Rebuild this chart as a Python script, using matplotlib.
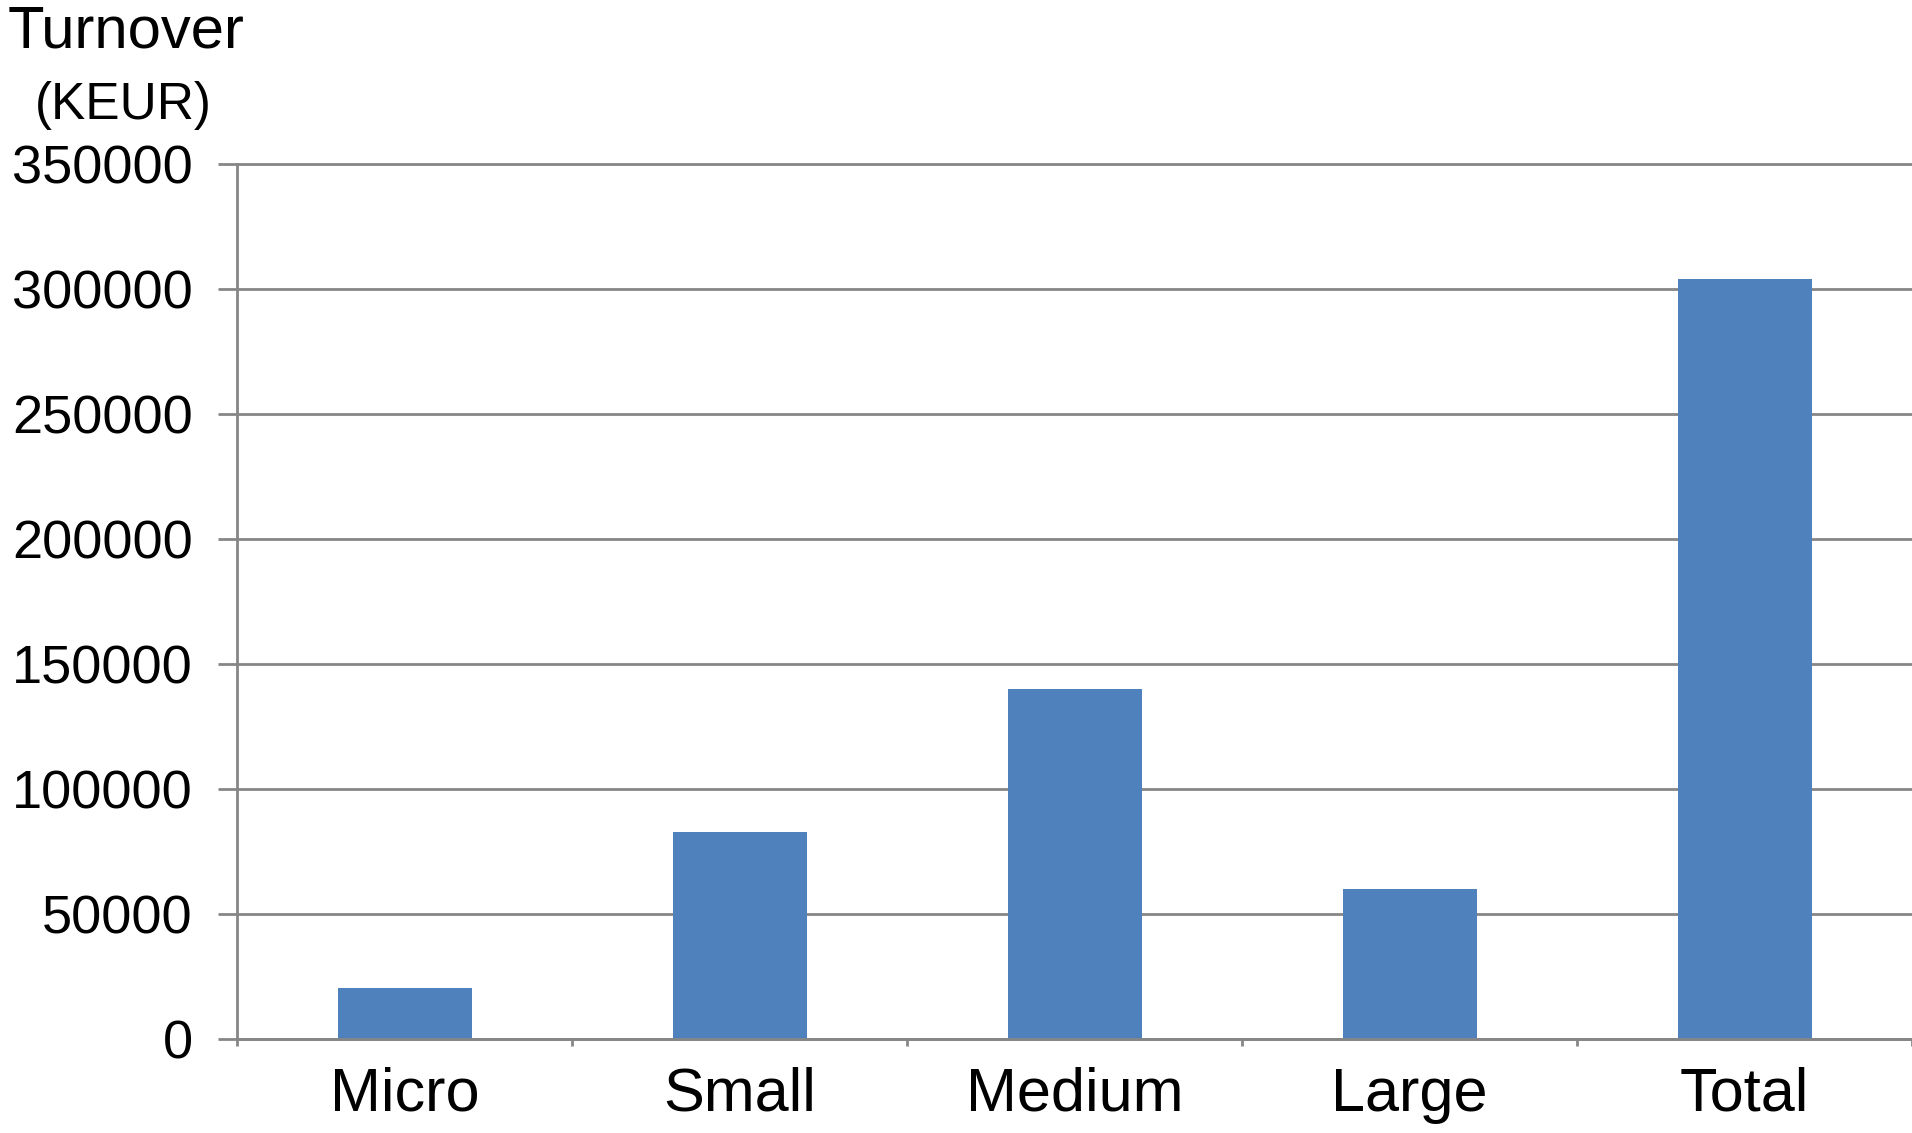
import matplotlib
matplotlib.use('Agg')
import matplotlib.pyplot as plt
import numpy as np

plt.rcParams['font.family'] = ['Liberation Sans', 'DejaVu Sans']

# 데이터
categories = ['Micro', 'Small', 'Medium', 'Large', 'Total']
turnover = [20500, 83000, 140000, 60000, 304000]
y_ticks = [0, 50000, 100000, 150000, 200000, 250000, 300000, 350000]

W, H = 1912, 1133
fig = plt.figure(figsize=(W / 100, H / 100), dpi=100)
ax = fig.add_axes([237 / W, 1 - 1039 / H, 1 - 237 / W, (1039 - 164) / H])

x = np.arange(len(categories))
ax.bar(x, turnover, width=0.4, color='#4F81BD', zorder=3)

ax.set_xlim(-0.5, len(categories) - 0.5)
ax.set_ylim(0, 350000)
ax.set_yticks(y_ticks)
ax.set_yticklabels([str(v) for v in y_ticks])
ax.set_xticks(x)
ax.set_xticklabels(categories)
ax.set_xticks(np.arange(len(categories) + 1) - 0.5, minor=True)

grid_c = '#868686'
ax.yaxis.grid(True, color=grid_c, linewidth=2, zorder=0)
for gl in ax.yaxis.get_gridlines():
    gl.set_clip_on(False)

for s in ['top', 'right']:
    ax.spines[s].set_visible(False)
for s in ['left', 'bottom']:
    ax.spines[s].set_color(grid_c)
    ax.spines[s].set_linewidth(2)
    ax.spines[s].set_zorder(4)

ax.tick_params(axis='y', direction='out', length=14, width=2, color=grid_c,
               pad=18, labelsize=39)
ax.tick_params(axis='x', which='major', length=0, pad=20, labelsize=44)
ax.tick_params(axis='x', which='minor', direction='out', length=5, width=2, color=grid_c)

fig.text(8 / W, 1 - 48 / H, 'Turnover', fontsize=43, ha='left', va='baseline')
fig.text(35 / W, 1 - 119 / H, '(KEUR)', fontsize=37, ha='left', va='baseline')

plt.savefig('out.png', dpi=100)
